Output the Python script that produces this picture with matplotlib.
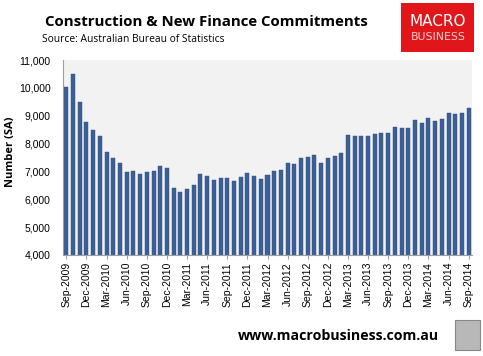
import numpy as np
import matplotlib.pyplot as plt
from matplotlib.patches import Rectangle

plt.rcParams['font.family'] = ['Open Sans', 'DejaVu Sans']

months = ['Sep', 'Oct', 'Nov', 'Dec', 'Jan', 'Feb', 'Mar', 'Apr', 'May', 'Jun', 'Jul', 'Aug']
dates = []
y = 2009
for i in range(61):
    mo = months[i % 12]
    if mo == 'Jan':
        y += 1
    dates.append('%s-%d' % (mo, y))

values = [10030, 10490, 9480, 8760, 8480, 8270, 7700, 7470, 7290, 6970, 7005, 6910,
          6975, 7005, 7195, 7125, 6405, 6265, 6370, 6515, 6910, 6840, 6695, 6765,
          6765, 6660, 6800, 6945, 6837, 6730, 6873, 7017, 7053, 7304, 7268, 7483,
          7519, 7591, 7304, 7483, 7555, 7663, 8309, 8273, 8273, 8273, 8344, 8380,
          8380, 8596, 8560, 8560, 8847, 8739, 8919, 8811, 8883, 9098, 9062, 9098,
          9278]
yticks = [4000, 5000, 6000, 7000, 8000, 9000, 10000, 11000]

fig = plt.figure(figsize=(4.83, 3.56), dpi=100)
ax = fig.add_axes([63/483, 1-255/356, (472-63)/483, (255-60)/356])
x = np.arange(len(values))
ax.bar(x, values, width=0.6, color='#3B5F96', edgecolor='#2E4D7C', linewidth=0.3)
ax.set_facecolor('#F2F2F2')
ax.set_xlim(-0.5, len(values)-0.5)
ax.set_ylim(4000, 11000)
ax.set_yticks(yticks)
ax.set_yticklabels(['{:,}'.format(v) for v in yticks], fontsize=7.5, family=['Liberation Sans'])
ax.set_xticks(x[::3])
ax.set_xticklabels(dates[::3], rotation=90, fontsize=7.5, family=['Liberation Sans'])
ax.tick_params(axis='y', length=0, pad=9)
ax.tick_params(axis='x', length=3, color='#A0A0A0', pad=2)
for s in ['top', 'right']:
    ax.spines[s].set_visible(False)
ax.spines['left'].set_color('#A0A0A0')
ax.spines['bottom'].set_color('#A0A0A0')
ax.set_ylabel('Number (SA)', fontsize=8, fontweight='bold')
ax.yaxis.set_label_coords(-47/409, 0.53)

fig.text(206/483, 1-22/356, 'Construction & New Finance Commitments', ha='center', va='center',
         fontsize=10.8, fontweight='bold')
fig.text(42/483, 1-40/356, 'Source: Australian Bureau of Statistics', ha='left', va='center', fontsize=7.4)

# logo box
fig.patches.append(Rectangle((401/483, 1-52/356), 73/483, 49/356, transform=fig.transFigure,
                             facecolor='#E0161B', edgecolor='none'))
fig.text(438/483, 1-22/356, 'MACRO', ha='center', va='center', color='white', fontsize=11,
         family=['Liberation Sans Narrow', 'DejaVu Sans'])
fig.text(438/483, 1-37/356, 'BUSINESS', ha='center', va='center', color='#F4D0D0', fontsize=7.8,
         family=['Liberation Sans Narrow', 'DejaVu Sans'])

fig.text(338/483, 1-336/356, 'www.macrobusiness.com.au', ha='center', va='center',
         fontsize=10.2, fontweight='bold')
fig.patches.append(Rectangle((455/483, 1-350/356), 25/483, 30/356, transform=fig.transFigure,
                             facecolor='#B8B8B8', edgecolor='#888888', linewidth=0.8))

fig.savefig('out.png', dpi=100)
